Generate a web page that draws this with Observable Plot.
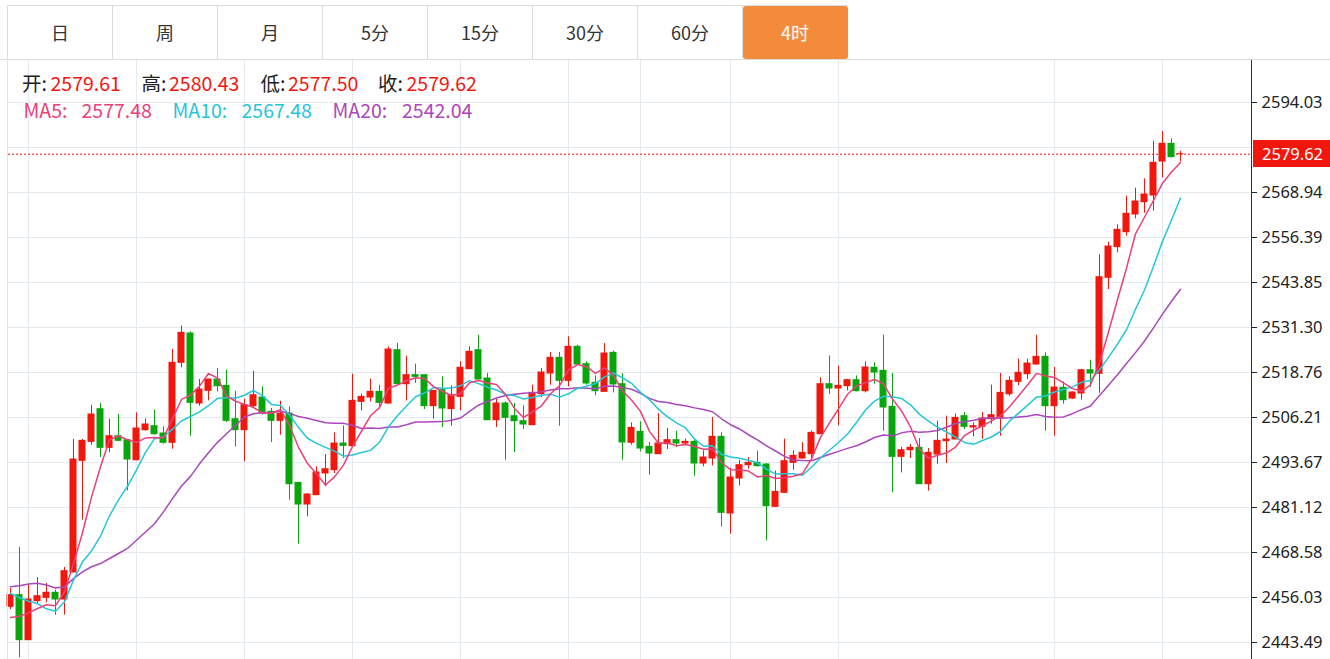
<!DOCTYPE html>
<html><head><meta charset="utf-8">
<script src="https://cdn.jsdelivr.net/npm/d3@7"></script>
<script src="https://cdn.jsdelivr.net/npm/@observablehq/plot@0.6"></script>
<style>
body{margin:0;background:#fff;font-family:"Noto Sans CJK SC","Noto Sans",sans-serif;}
#wrap{position:relative;width:1330px;height:659px;overflow:hidden;background:#fff;}
#tabs{position:absolute;left:7px;top:5px;height:53px;display:flex;border-top:1px solid #dcdcdc;border-left:1px solid #dcdcdc;}
.tab{width:104px;height:53px;line-height:53px;text-align:center;font-size:18px;color:#333;border-right:1px solid #dcdcdc;}
.tab.active{background:#f28c3c;color:#fff;border-radius:3px;border-right:1px solid #f28c3c;}
#topline{position:absolute;left:0;top:59px;width:1330px;height:1px;background:#dcdcdc;z-index:3;}
#leftline{position:absolute;left:7px;top:59px;width:1px;height:600px;background:#dfe6ec;z-index:3;}
#chart{position:absolute;left:0;top:59px;}
.info{position:absolute;font-size:19.5px;line-height:26px;white-space:nowrap;z-index:4;}
.lbl{color:#222;}
.num{color:#f2170d;}
#pricebox{position:absolute;left:1253px;width:77px;height:27px;line-height:27px;background:#f2170d;color:#fff;font-family:"Noto Sans",sans-serif;font-size:16.5px;padding-left:9px;box-sizing:border-box;z-index:5;}
</style></head>
<body><div id="wrap">
<div id="tabs"></div>
<div id="chart"></div>
<div id="topline"></div>
<div id="leftline"></div>
</div>
<script>
// ---- data ----
const tabLabels = ["日","周","月","5分","15分","30分","60分","4时"];
const activeTab = "4时";
const ohlcLabels = ["开:","高:","低:","收:"];
const ohlcValues = ["2579.61","2580.43","2577.50","2579.62"];
const maNames = ["MA5:","MA10:","MA20:"];
const maLatest = ["2577.48","2567.48","2542.04"];
const open = [2453.42,2456.68,2444.13,2455.00,2455.93,2457.33,2455.47,2463.00,2494.13,2499.42,
2508.53,2497.75,2501.00,2499.89,2494.31,2502.68,2503.79,2501.75,2499.15,2521.45,
2529.63,2510.11,2513.64,2516.80,2515.04,2505.74,2502.68,2509.37,2511.78,2507.79,
2505.28,2507.32,2488.00,2481.95,2484.56,2490.60,2491.53,2498.96,2498.22,2510.57,
2511.78,2513.36,2510.11,2524.98,2515.50,2518.01,2518.01,2509.37,2513.83,2508.53,
2511.97,2519.68,2524.98,2517.08,2505.46,2510.11,2506.58,2505.18,2504.07,2512.71,
2518.47,2522.84,2516.43,2525.91,2521.08,2515.87,2513.36,2524.24,2515.50,2499.15,
2502.21,2498.03,2495.99,2498.77,2499.89,2498.96,2499.42,2493.38,2494.78,2500.82,
2479.44,2489.20,2492.92,2493.57,2493.10,2481.30,2485.21,2493.57,2494.78,2495.99,
2501.56,2515.50,2514.29,2514.94,2516.62,2513.55,2520.06,2519.22,2509.18,2495.24,
2497.10,2497.75,2487.62,2495.89,2499.61,2500.07,2506.58,2503.42,2503.61,2505.74,
2506.21,2512.71,2516.15,2518.29,2520.98,2523.12,2509.37,2514.48,2511.50,2512.90,
2519.40,2518.38,2545.15,2553.70,2557.88,2562.81,2566.24,2568.10,2577.58,2582.51,2579.61];
const high = [2458.53,2469.96,2459.65,2461.60,2459.93,2458.07,2464.39,2500.07,2500.07,2509.65,
2510.11,2505.74,2507.05,2499.89,2507.51,2505.83,2508.25,2503.61,2525.17,2531.67,
2530.09,2516.80,2516.80,2519.87,2519.40,2513.55,2511.32,2519.13,2514.76,2508.72,
2510.76,2509.18,2488.00,2485.02,2492.45,2495.89,2501.93,2503.88,2518.29,2512.71,
2516.89,2515.22,2525.91,2526.84,2523.31,2521.08,2518.01,2513.64,2517.54,2515.04,
2521.73,2525.91,2529.16,2518.47,2511.32,2510.57,2510.11,2509.46,2515.22,2519.87,
2524.33,2524.33,2528.70,2526.37,2521.73,2517.82,2526.84,2524.70,2518.47,2504.72,
2505.00,2499.24,2507.32,2503.14,2502.40,2500.17,2499.89,2496.92,2506.21,2501.93,
2491.99,2494.31,2495.06,2496.82,2493.38,2491.25,2500.17,2496.92,2499.24,2502.49,
2517.27,2523.40,2520.52,2516.80,2517.82,2521.73,2521.45,2529.16,2518.47,2497.84,
2498.68,2500.35,2497.56,2505.18,2506.58,2507.14,2507.60,2504.72,2507.60,2515.22,
2518.47,2517.54,2522.47,2522.47,2529.16,2524.24,2520.15,2516.15,2513.36,2519.68,
2522.19,2551.56,2555.09,2559.92,2567.92,2570.15,2572.75,2583.25,2585.95,2583.90,2580.43];
const low = [2452.68,2439.20,2444.13,2454.35,2454.54,2451.10,2451.10,2463.00,2477.59,2498.49,
2495.06,2496.36,2499.70,2485.76,2494.13,2502.40,2501.28,2498.77,2497.38,2520.06,
2501.00,2509.37,2510.85,2513.36,2504.81,2498.03,2493.85,2509.00,2506.86,2499.24,
2501.28,2483.16,2470.90,2478.51,2484.56,2486.88,2490.60,2494.78,2498.22,2508.07,
2510.57,2509.18,2509.92,2515.50,2510.85,2515.69,2508.44,2505.74,2503.42,2503.79,
2508.07,2519.68,2516.62,2505.46,2503.42,2494.31,2496.45,2502.86,2504.07,2511.78,
2515.22,2503.79,2514.76,2520.98,2515.22,2512.25,2513.36,2513.08,2494.31,2498.49,
2496.64,2490.13,2495.99,2497.29,2497.84,2498.68,2489.85,2492.45,2492.73,2475.72,
2473.68,2487.16,2491.80,2492.45,2471.82,2481.11,2485.21,2491.53,2494.50,2494.50,
2501.56,2512.62,2503.88,2513.64,2513.36,2513.08,2515.50,2502.40,2485.21,2490.78,
2494.78,2487.62,2485.67,2493.20,2493.38,2500.07,2502.86,2500.82,2500.17,2504.35,
2501.00,2512.16,2515.04,2516.80,2520.80,2502.40,2501.00,2509.92,2511.22,2511.04,
2514.57,2512.99,2541.89,2552.12,2556.76,2561.60,2563.18,2563.73,2573.03,2578.60,2577.50];
const close = [2456.68,2444.13,2455.47,2456.40,2457.33,2455.47,2463.37,2494.50,2499.70,2507.05,
2497.75,2501.00,2499.70,2494.50,2503.14,2504.26,2501.56,2499.15,2521.45,2529.81,
2510.29,2514.01,2516.80,2514.94,2505.28,2502.68,2509.65,2512.43,2507.32,2505.28,
2507.32,2487.62,2481.95,2484.74,2490.88,2491.80,2498.96,2498.31,2510.85,2511.97,
2513.36,2510.29,2525.17,2515.50,2518.01,2517.54,2509.37,2513.64,2508.72,2512.43,
2520.06,2524.52,2516.80,2505.46,2510.11,2506.11,2505.18,2504.26,2513.08,2518.75,
2522.84,2516.43,2525.91,2520.98,2515.69,2513.55,2524.05,2515.41,2499.24,2503.32,
2497.56,2496.17,2498.96,2499.89,2498.96,2499.42,2493.38,2495.06,2500.82,2479.63,
2489.48,2492.92,2493.57,2492.64,2481.49,2485.48,2494.03,2495.52,2496.36,2501.93,
2515.50,2514.29,2515.04,2516.62,2513.55,2520.15,2518.75,2509.00,2495.24,2497.10,
2497.75,2487.62,2496.36,2499.70,2500.07,2506.11,2503.61,2503.79,2505.93,2506.86,
2513.08,2516.43,2518.66,2521.26,2523.12,2509.37,2514.57,2511.04,2513.18,2519.40,
2518.47,2545.33,2553.88,2558.53,2562.99,2566.43,2568.38,2577.21,2582.51,2578.79,2579.62];
// moving-average values at the left edge (window reaches before the first visible bar)
const ma5Head = [2450.46,2450.82,2451.75,2452.96];
const ma10Head = [2457.14,2456.03,2455.00,2454.35,2452.87,2452.22,2454.82,2460.86,2465.97];
const ma20Head = [2459.0,2459.3,2459.8,2460.0,2459.5,2458.7,2459.0,2461.3,2463.2,2464.6,2465.5,2466.9,2468.3,2469.7,2472.0,2474.3,2476.6,2479.9,2483.6];
const gridTicks = [2443.49,2456.03,2468.58,2481.12,2493.67,2506.21,2518.76,2531.30,2543.85,2556.39,2568.94,2581.48,2594.03];
const axisTicks = [2443.49,2456.03,2468.58,2481.12,2493.67,2506.21,2518.76,2531.30,2543.85,2556.39,2568.94,2594.03];
const timeGrid = [2,14,26,38,50,62,70,80,92,116,128];
const lastPrice = 2579.62;

// ---- build ----
const RED = "#f2170d", GREEN = "#09a50d", GRID = "#e3ebf1";
const C5 = "#ec407a", C10 = "#26c6da", C20 = "#ab47bc";
const candles = open.map((o, i) => ({i, open: o, high: high[i], low: low[i], close: close[i]}));
function ma(n, head) {
  return close.map((c, i) => ({i, v: i >= n - 1 ? d3.mean(close.slice(i - n + 1, i + 1)) : head[i]}));
}
const ma5 = ma(5, ma5Head), ma10 = ma(10, ma10Head), ma20 = ma(20, ma20Head);
const col = d => d.close >= d.open ? RED : GREEN;

const xDomain = [-2/9, 1241/9];
const chart = Plot.plot({
  width: 1330, height: 600,
  marginLeft: 8, marginRight: 79, marginTop: 0, marginBottom: 0,
  x: {domain: xDomain, axis: null},
  y: {domain: [2438.746, 2606.018], axis: null},
  style: {fontFamily: "'Noto Sans', sans-serif", fontSize: "16.5px", color: "#222", background: "transparent"},
  marks: [
    Plot.ruleY(gridTicks, {stroke: GRID, strokeWidth: 1}),
    Plot.ruleX(timeGrid, {stroke: GRID, strokeWidth: 1}),
    Plot.ruleY([lastPrice], {stroke: RED, strokeDasharray: "2,2", strokeWidth: 1}),
    Plot.ruleX(candles, {x: "i", y1: "low", y2: "high", stroke: col, strokeWidth: 1}),
    Plot.rect(candles, {x1: d => d.i - 0.389, x2: d => d.i + 0.389,
      y1: d => Math.min(d.open, d.close), y2: d => Math.max(d.open, d.close),
      fill: col, insetTop: -0.5, insetBottom: -0.5}),
    Plot.line(ma20, {x: "i", y: "v", stroke: C20, strokeWidth: 1.5}),
    Plot.line(ma10, {x: "i", y: "v", stroke: C10, strokeWidth: 1.5}),
    Plot.line(ma5, {x: "i", y: "v", stroke: C5, strokeWidth: 1.5}),
    Plot.ruleX([xDomain[1]], {stroke: "#333", strokeWidth: 1}),
    Plot.axisY({anchor: "right", ticks: axisTicks, tickFormat: d => d.toFixed(2), tickSize: 5, tickPadding: 5})
  ]
});
document.getElementById("chart").appendChild(chart);

// tabs
const tabs = document.getElementById("tabs");
tabLabels.forEach(t => {
  const d = document.createElement("div");
  d.className = "tab" + (t === activeTab ? " active" : "");
  d.textContent = t;
  tabs.appendChild(d);
});

// info text
const wrap = document.getElementById("wrap");
function addText(text, left, top, color, cls) {
  const a = document.createElement("div");
  a.className = "info" + (cls ? " " + cls : "");
  a.textContent = text;
  a.style.left = left + "px"; a.style.top = top + "px";
  if (color) a.style.color = color;
  wrap.appendChild(a);
}
const lblLeft = [22, 141.5, 260.5, 378];
const numLeft = [50.5, 169, 288, 406.5];
ohlcLabels.forEach((l, k) => {
  addText(l, lblLeft[k], 70, null, "lbl");
  addText(ohlcValues[k], numLeft[k], 70, null, "num");
});
const maLblLeft = [23.5, 172.5, 332.5];
const maNumLeft = [81.5, 241.5, 402];
const maCols = [C5, C10, C20];
maNames.forEach((l, k) => {
  addText(l, maLblLeft[k], 96.5, maCols[k]);
  addText(maLatest[k], maNumLeft[k], 96.5, maCols[k]);
});

// last price label
const py = chart.scale("y").apply(lastPrice);
const pb = document.createElement("div");
pb.id = "pricebox"; pb.textContent = lastPrice.toFixed(2);
pb.style.top = (59 + py - 13.5) + "px";
wrap.appendChild(pb);
</script>
</body></html>
